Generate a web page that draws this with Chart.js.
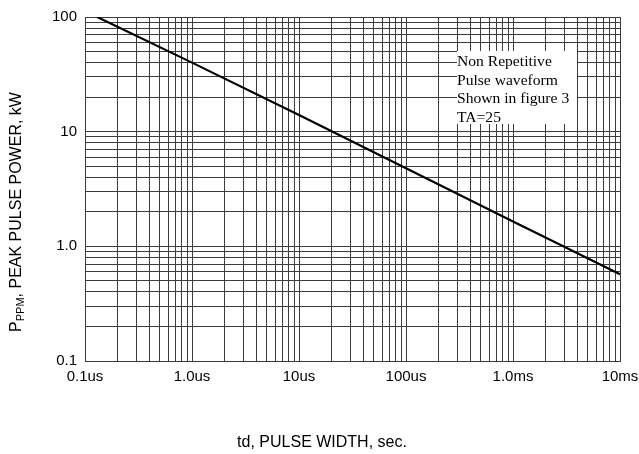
<!DOCTYPE html>
<html>
<head>
<meta charset="utf-8">
<script src="https://cdn.jsdelivr.net/npm/chart.js@4"></script>
<style>
  html, body { margin: 0; padding: 0; background: #fff; }
</style>
</head>
<body>
<canvas id="chart" width="639" height="454"></canvas>
<script>
// pulse width in microseconds vs peak pulse power in kW
const pulseWidthUs = [0.13, 1, 10, 100, 1000, 10000];
const peakPowerKw = [100, 40, 14, 4.8, 1.65, 0.57];

const xDecades = [0.1, 1, 10, 100, 1000, 10000];
const xTickLabels = ['0.1us', '1.0us', '10us', '100us', '1.0ms', '10ms'];
const yDecades = [0.1, 1, 10, 100];
const yTickLabels = ['0.1', '1.0', '10', '100'];

const noteLines = ['Non Repetitive', 'Pulse waveform', 'Shown in figure 3', 'TA=25'];

const gridColor = '#3c3c3c';
const tickFont = { family: 'Liberation Sans, Arial, sans-serif', size: 15 };

// 1..9 per decade, so every log grid line gets drawn
function logGrid(decades) {
  const vals = [];
  for (let i = 0; i < decades.length - 1; i++) {
    for (let m = 1; m < 10; m++) vals.push(decades[i] * m);
  }
  vals.push(decades[decades.length - 1]);
  return vals;
}

function decadeLabel(decades, labels) {
  return function (value) {
    const i = decades.findIndex(d => Math.abs(d - value) / d < 1e-6);
    return i >= 0 ? labels[i] : '';
  };
}

const extras = {
  id: 'extras',
  afterDraw(chart) {
    const c = chart.ctx;
    c.save();

    // note box over the grid
    c.fillStyle = '#fff';
    c.fillRect(457, 51, 120, 73);
    c.fillStyle = '#000';
    c.font = '15.6px "Liberation Serif", "Times New Roman", serif';
    c.textAlign = 'left';
    c.textBaseline = 'alphabetic';
    noteLines.forEach((t, i) => c.fillText(t, 457, 66 + i * 18.7));

    // x title
    c.font = '16px "Liberation Sans", Arial, sans-serif';
    c.textAlign = 'center';
    c.textBaseline = 'middle';
    c.fillText('td, PULSE WIDTH, sec.', 322, 443);

    // y title with subscript, rotated
    c.translate(15, 212);
    c.rotate(-Math.PI / 2);
    const big = '16px "Liberation Sans", Arial, sans-serif';
    const small = '11px "Liberation Sans", Arial, sans-serif';
    const rest = ', PEAK PULSE POWER, kW';
    c.font = big;
    const wP = c.measureText('P').width;
    const wRest = c.measureText(rest).width;
    c.font = small;
    const wSub = c.measureText('PPM').width;
    let x = -(wP + wSub + wRest) / 2;
    c.textAlign = 'left';
    c.textBaseline = 'alphabetic';
    c.font = big;
    c.fillText('P', x, 6);
    x += wP;
    c.font = small;
    c.fillText('PPM', x, 9);
    x += wSub;
    c.font = big;
    c.fillText(rest, x, 6);

    c.restore();
  }
};

new Chart(document.getElementById('chart').getContext('2d'), {
  type: 'line',
  data: {
    datasets: [{
      data: pulseWidthUs.map((v, i) => ({ x: v, y: peakPowerKw[i] })),
      borderColor: '#000',
      borderWidth: 2.2,
      pointRadius: 0,
      tension: 0,
      fill: false
    }]
  },
  options: {
    responsive: false,
    animation: false,
    layout: { padding: { top: 15, right: 0, left: 0, bottom: 0 } },
    plugins: { legend: { display: false }, tooltip: { enabled: false } },
    scales: {
      x: {
        type: 'logarithmic',
        min: 0.1,
        max: 10000,
        afterBuildTicks: s => { s.ticks = logGrid(xDecades).map(v => ({ value: v })); },
        afterFit: s => { s.height = 93; s.paddingRight = 19; },
        grid: { color: gridColor, drawTicks: false },
        border: { color: gridColor },
        ticks: {
          autoSkip: false,
          maxRotation: 0,
          padding: 7,
          color: '#000',
          font: tickFont,
          callback: decadeLabel(xDecades, xTickLabels)
        }
      },
      y: {
        type: 'logarithmic',
        min: 0.1,
        max: 100,
        afterBuildTicks: s => { s.ticks = logGrid(yDecades).map(v => ({ value: v })); },
        afterFit: s => { s.width = 85; },
        grid: { color: gridColor, drawTicks: false },
        border: { color: gridColor },
        ticks: {
          autoSkip: false,
          padding: 8,
          color: '#000',
          font: tickFont,
          callback: decadeLabel(yDecades, yTickLabels)
        }
      }
    }
  },
  plugins: [extras]
});
</script>
</body>
</html>
